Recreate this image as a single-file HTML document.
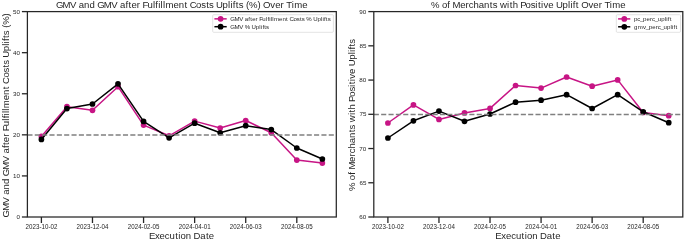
<!DOCTYPE html>
<html><head><meta charset="utf-8"><style>
html,body{margin:0;padding:0;background:#ffffff;}
body{width:685px;height:241px;overflow:hidden;}
svg{display:block;font-family:"Liberation Sans",sans-serif;filter:blur(0.3px);}
</style></head><body>
<svg width="685" height="241" viewBox="0 0 685 241">
<rect width="685" height="241" fill="#ffffff"/>
<polyline points="41.4,136.4 66.94,106.7 92.48,110.3 118.02,86.7 143.56,125.1 169.1,135.8 194.64,121.1 220.18,128 245.72,120.5 271.26,132.8 296.8,160.1 322.34,163.1" fill="none" stroke="#c71585" stroke-width="1.5" stroke-linejoin="round" stroke-linecap="round"/><circle cx="41.4" cy="136.4" r="2.85" fill="#c71585"/><circle cx="66.94" cy="106.7" r="2.85" fill="#c71585"/><circle cx="92.48" cy="110.3" r="2.85" fill="#c71585"/><circle cx="118.02" cy="86.7" r="2.85" fill="#c71585"/><circle cx="143.56" cy="125.1" r="2.85" fill="#c71585"/><circle cx="169.1" cy="135.8" r="2.85" fill="#c71585"/><circle cx="194.64" cy="121.1" r="2.85" fill="#c71585"/><circle cx="220.18" cy="128" r="2.85" fill="#c71585"/><circle cx="245.72" cy="120.5" r="2.85" fill="#c71585"/><circle cx="271.26" cy="132.8" r="2.85" fill="#c71585"/><circle cx="296.8" cy="160.1" r="2.85" fill="#c71585"/><circle cx="322.34" cy="163.1" r="2.85" fill="#c71585"/>
<polyline points="41.4,139.4 66.94,108.6 92.48,104 118.02,83.8 143.56,121.4 169.1,137.8 194.64,123.2 220.18,132.8 245.72,125.7 271.26,129.6 296.8,148 322.34,159" fill="none" stroke="#000000" stroke-width="1.5" stroke-linejoin="round" stroke-linecap="round"/><circle cx="41.4" cy="139.4" r="2.85" fill="#000000"/><circle cx="66.94" cy="108.6" r="2.85" fill="#000000"/><circle cx="92.48" cy="104" r="2.85" fill="#000000"/><circle cx="118.02" cy="83.8" r="2.85" fill="#000000"/><circle cx="143.56" cy="121.4" r="2.85" fill="#000000"/><circle cx="169.1" cy="137.8" r="2.85" fill="#000000"/><circle cx="194.64" cy="123.2" r="2.85" fill="#000000"/><circle cx="220.18" cy="132.8" r="2.85" fill="#000000"/><circle cx="245.72" cy="125.7" r="2.85" fill="#000000"/><circle cx="271.26" cy="129.6" r="2.85" fill="#000000"/><circle cx="296.8" cy="148" r="2.85" fill="#000000"/><circle cx="322.34" cy="159" r="2.85" fill="#000000"/>
<line x1="27.4" y1="135.04" x2="336.3" y2="135.04" stroke="#808080" stroke-width="1.6" stroke-dasharray="5.1 2.25"/>
<rect x="27.4" y="11.6" width="308.9" height="205.4" fill="none" stroke="#262626" stroke-width="1.25"/>
<line x1="21.9" y1="217" x2="27.4" y2="217" stroke="#262626" stroke-width="1.3"/>
<text transform="scale(1.1,1)" x="15.04" y="219.04" font-size="5.70" fill="#262626">0</text>
<line x1="21.9" y1="175.92" x2="27.4" y2="175.92" stroke="#262626" stroke-width="1.3"/>
<text transform="scale(1.1,1)" x="11.80 15.04" y="177.96" font-size="5.70" fill="#262626">10</text>
<line x1="21.9" y1="134.84" x2="27.4" y2="134.84" stroke="#262626" stroke-width="1.3"/>
<text transform="scale(1.1,1)" x="11.80 15.04" y="136.88" font-size="5.70" fill="#262626">20</text>
<line x1="21.9" y1="93.76" x2="27.4" y2="93.76" stroke="#262626" stroke-width="1.3"/>
<text transform="scale(1.1,1)" x="11.80 15.04" y="95.80" font-size="5.70" fill="#262626">30</text>
<line x1="21.9" y1="52.68" x2="27.4" y2="52.68" stroke="#262626" stroke-width="1.3"/>
<text transform="scale(1.1,1)" x="11.80 15.04" y="54.72" font-size="5.70" fill="#262626">40</text>
<line x1="21.9" y1="11.6" x2="27.4" y2="11.6" stroke="#262626" stroke-width="1.3"/>
<text transform="scale(1.1,1)" x="11.80 15.04" y="13.64" font-size="5.70" fill="#262626">50</text>
<line x1="41.4" y1="217" x2="41.4" y2="223" stroke="#262626" stroke-width="1.3"/>
<text transform="scale(0.96,1)" x="26.59 30.23 33.88 37.52 41.10 43.24 46.88 50.45 52.59 56.24" y="228.90" font-size="6.43" fill="#262626">2023-10-02</text>
<line x1="92.48" y1="217" x2="92.48" y2="223" stroke="#262626" stroke-width="1.3"/>
<text transform="scale(0.96,1)" x="79.67 83.31 86.96 90.61 94.18 96.32 99.96 103.54 105.67 109.32" y="228.90" font-size="6.43" fill="#262626">2023-12-04</text>
<line x1="143.56" y1="217" x2="143.56" y2="223" stroke="#262626" stroke-width="1.3"/>
<text transform="scale(0.96,1)" x="132.97 136.61 140.26 143.90 147.48 149.62 153.26 156.83 158.97 162.62" y="228.90" font-size="6.43" fill="#262626">2024-02-05</text>
<line x1="194.64" y1="217" x2="194.64" y2="223" stroke="#262626" stroke-width="1.3"/>
<text transform="scale(0.96,1)" x="186.19 189.84 193.48 197.13 200.70 202.84 206.48 210.06 212.20 215.84" y="228.90" font-size="6.43" fill="#262626">2024-04-01</text>
<line x1="245.72" y1="217" x2="245.72" y2="223" stroke="#262626" stroke-width="1.3"/>
<text transform="scale(0.96,1)" x="239.36 243.01 246.65 250.30 253.87 256.01 259.66 263.23 265.37 269.01" y="228.90" font-size="6.43" fill="#262626">2024-06-03</text>
<line x1="296.8" y1="217" x2="296.8" y2="223" stroke="#262626" stroke-width="1.3"/>
<text transform="scale(0.96,1)" x="292.59 296.24 299.88 303.53 307.10 309.24 312.89 316.46 318.60 322.24" y="228.90" font-size="6.43" fill="#262626">2024-08-05</text>
<text transform="scale(1.085,1)" x="51.55 57.73 64.54 70.19 72.61 77.51 82.49 87.46 89.54 95.73 102.53 108.18 110.61 115.63 118.41 121.14 126.15 129.26 131.30 135.85 140.91 143.13 145.85 148.03 150.22 152.44 159.90 164.80 170.06 172.85 174.88 180.75 185.45 190.01 192.62 196.89 199.05 205.15 210.21 212.39 214.62 217.40 220.00 224.28 226.81 229.62 237.34 240.36 242.50 249.14 253.63 258.64 261.75 263.92 268.89 271.11 278.57" y="7.95" font-size="8.82" fill="#262626">GMV and GMV after Fulfillment Costs Uplifts (%) Over Time</text>
<text transform="scale(1.085,1)" x="137.23 142.76 147.00 151.81 156.20 161.44 164.31 166.33 171.21 176.16 178.46 184.61 189.77 192.49" y="239.30" font-size="8.80" fill="#262626">Execution Date</text>
<text transform="translate(9.40,0) rotate(-90) scale(1.085,1)" x="-200.46 -194.29 -187.50 -181.86 -179.44 -174.56 -169.59 -164.63 -162.55 -156.38 -149.59 -143.95 -141.53 -136.53 -133.75 -131.03 -126.03 -122.93 -120.89 -116.35 -111.31 -109.08 -106.37 -104.20 -102.02 -99.80 -92.36 -87.47 -82.22 -79.44 -77.42 -71.55 -66.87 -62.32 -59.72 -55.45 -53.30 -47.21 -42.17 -39.99 -37.77 -34.99 -32.39 -28.13 -25.60 -22.80 -15.10" y="0" font-size="8.80" fill="#262626">GMV and GMV after Fulfillment Costs Uplifts (%)</text>
<polyline points="387.9,123 413.43,104.9 438.96,119.4 464.49,112.9 490.02,108.4 515.55,85.5 541.08,88.1 566.61,77 592.14,86.2 617.67,79.9 643.2,112.5 668.73,115.7" fill="none" stroke="#c71585" stroke-width="1.5" stroke-linejoin="round" stroke-linecap="round"/><circle cx="387.9" cy="123" r="2.85" fill="#c71585"/><circle cx="413.43" cy="104.9" r="2.85" fill="#c71585"/><circle cx="438.96" cy="119.4" r="2.85" fill="#c71585"/><circle cx="464.49" cy="112.9" r="2.85" fill="#c71585"/><circle cx="490.02" cy="108.4" r="2.85" fill="#c71585"/><circle cx="515.55" cy="85.5" r="2.85" fill="#c71585"/><circle cx="541.08" cy="88.1" r="2.85" fill="#c71585"/><circle cx="566.61" cy="77" r="2.85" fill="#c71585"/><circle cx="592.14" cy="86.2" r="2.85" fill="#c71585"/><circle cx="617.67" cy="79.9" r="2.85" fill="#c71585"/><circle cx="643.2" cy="112.5" r="2.85" fill="#c71585"/><circle cx="668.73" cy="115.7" r="2.85" fill="#c71585"/>
<polyline points="387.9,138 413.43,120.8 438.96,111.1 464.49,121.3 490.02,114 515.55,102.2 541.08,100.2 566.61,94.7 592.14,108.5 617.67,94.7 643.2,111.8 668.73,122.7" fill="none" stroke="#000000" stroke-width="1.5" stroke-linejoin="round" stroke-linecap="round"/><circle cx="387.9" cy="138" r="2.85" fill="#000000"/><circle cx="413.43" cy="120.8" r="2.85" fill="#000000"/><circle cx="438.96" cy="111.1" r="2.85" fill="#000000"/><circle cx="464.49" cy="121.3" r="2.85" fill="#000000"/><circle cx="490.02" cy="114" r="2.85" fill="#000000"/><circle cx="515.55" cy="102.2" r="2.85" fill="#000000"/><circle cx="541.08" cy="100.2" r="2.85" fill="#000000"/><circle cx="566.61" cy="94.7" r="2.85" fill="#000000"/><circle cx="592.14" cy="108.5" r="2.85" fill="#000000"/><circle cx="617.67" cy="94.7" r="2.85" fill="#000000"/><circle cx="643.2" cy="111.8" r="2.85" fill="#000000"/><circle cx="668.73" cy="122.7" r="2.85" fill="#000000"/>
<line x1="373.8" y1="114.5" x2="682.8" y2="114.5" stroke="#808080" stroke-width="1.6" stroke-dasharray="5.1 2.25"/>
<rect x="373.8" y="11.6" width="309" height="205.4" fill="none" stroke="#262626" stroke-width="1.25"/>
<line x1="368.3" y1="217" x2="373.8" y2="217" stroke="#262626" stroke-width="1.3"/>
<text transform="scale(1.1,1)" x="326.62 329.86" y="219.04" font-size="5.70" fill="#262626">60</text>
<line x1="368.3" y1="182.77" x2="373.8" y2="182.77" stroke="#262626" stroke-width="1.3"/>
<text transform="scale(1.1,1)" x="326.73 329.97" y="184.81" font-size="5.70" fill="#262626">65</text>
<line x1="368.3" y1="148.53" x2="373.8" y2="148.53" stroke="#262626" stroke-width="1.3"/>
<text transform="scale(1.1,1)" x="326.62 329.86" y="150.57" font-size="5.70" fill="#262626">70</text>
<line x1="368.3" y1="114.3" x2="373.8" y2="114.3" stroke="#262626" stroke-width="1.3"/>
<text transform="scale(1.1,1)" x="326.73 329.97" y="116.34" font-size="5.70" fill="#262626">75</text>
<line x1="368.3" y1="80.07" x2="373.8" y2="80.07" stroke="#262626" stroke-width="1.3"/>
<text transform="scale(1.1,1)" x="326.62 329.86" y="82.11" font-size="5.70" fill="#262626">80</text>
<line x1="368.3" y1="45.83" x2="373.8" y2="45.83" stroke="#262626" stroke-width="1.3"/>
<text transform="scale(1.1,1)" x="326.73 329.97" y="47.87" font-size="5.70" fill="#262626">85</text>
<line x1="368.3" y1="11.6" x2="373.8" y2="11.6" stroke="#262626" stroke-width="1.3"/>
<text transform="scale(1.1,1)" x="326.62 329.86" y="13.64" font-size="5.70" fill="#262626">90</text>
<line x1="387.9" y1="217" x2="387.9" y2="223" stroke="#262626" stroke-width="1.3"/>
<text transform="scale(0.96,1)" x="387.52 391.17 394.82 398.46 402.03 404.17 407.82 411.39 413.53 417.18" y="228.90" font-size="6.43" fill="#262626">2023-10-02</text>
<line x1="438.96" y1="217" x2="438.96" y2="223" stroke="#262626" stroke-width="1.3"/>
<text transform="scale(0.96,1)" x="440.59 444.23 447.88 451.52 455.10 457.23 460.88 464.45 466.59 470.24" y="228.90" font-size="6.43" fill="#262626">2023-12-04</text>
<line x1="490.02" y1="217" x2="490.02" y2="223" stroke="#262626" stroke-width="1.3"/>
<text transform="scale(0.96,1)" x="493.86 497.51 501.15 504.80 508.37 510.51 514.16 517.73 519.87 523.51" y="228.90" font-size="6.43" fill="#262626">2024-02-05</text>
<line x1="541.08" y1="217" x2="541.08" y2="223" stroke="#262626" stroke-width="1.3"/>
<text transform="scale(0.96,1)" x="547.07 550.71 554.36 558.00 561.57 563.71 567.36 570.93 573.07 576.72" y="228.90" font-size="6.43" fill="#262626">2024-04-01</text>
<line x1="592.14" y1="217" x2="592.14" y2="223" stroke="#262626" stroke-width="1.3"/>
<text transform="scale(0.96,1)" x="600.22 603.86 607.51 611.15 614.73 616.87 620.51 624.08 626.22 629.87" y="228.90" font-size="6.43" fill="#262626">2024-06-03</text>
<line x1="643.2" y1="217" x2="643.2" y2="223" stroke="#262626" stroke-width="1.3"/>
<text transform="scale(0.96,1)" x="653.43 657.07 660.72 664.36 667.94 670.07 673.72 677.29 679.43 683.08" y="228.90" font-size="6.43" fill="#262626">2024-08-05</text>
<text transform="scale(1.085,1)" x="397.18 404.85 407.28 412.29 414.92 417.11 424.13 429.14 432.01 436.41 441.30 446.20 451.45 454.06 458.33 460.83 467.34 469.72 472.52 477.49 479.39 484.36 489.06 493.42 495.81 498.68 500.87 505.36 510.25 512.42 518.51 523.57 525.75 527.98 530.76 533.55 535.68 542.32 546.81 551.83 554.93 557.11 562.07 564.30 571.76" y="7.95" font-size="8.82" fill="#262626">% of Merchants with Positive Uplift Over Time</text>
<text transform="scale(1.085,1)" x="456.54 462.07 466.31 471.12 475.51 480.75 483.62 485.64 490.51 495.47 497.77 503.92 509.08 511.80" y="239.30" font-size="8.80" fill="#262626">Execution Date</text>
<text transform="translate(354.70,0) rotate(-90) scale(1.085,1)" x="-176.11 -168.45 -166.03 -161.03 -158.41 -156.23 -149.22 -144.22 -141.36 -136.97 -132.09 -127.20 -121.96 -119.36 -115.10 -112.60 -106.11 -103.73 -100.94 -95.99 -94.09 -89.13 -84.44 -80.09 -77.71 -74.84 -72.66 -68.18 -63.30 -61.14 -55.06 -50.01 -47.84 -45.61 -42.84 -40.24" y="0" font-size="8.80" fill="#262626">% of Merchants with Positive Uplifts</text>
<rect x="212.7" y="14.7" width="120.7" height="17.6" rx="1" fill="#ffffff" fill-opacity="0.8" stroke="#d0d0d0" stroke-width="0.6"/>
<line x1="214.4" y1="18.85" x2="226.7" y2="18.85" stroke="#c71585" stroke-width="1.5"/>
<circle cx="220.6" cy="18.85" r="2.85" fill="#c71585"/>
<text transform="scale(1.1,1)" x="209.30 213.21 217.50 221.06 222.59 225.76 227.51 229.24 232.40 234.36 235.64 238.52 241.71 243.11 244.83 246.20 247.58 248.99 253.69 256.79 260.10 261.86 263.14 266.85 269.81 272.69 274.33 277.03 278.47 283.31 284.68 288.53 291.71 293.09 294.50 296.25 297.90" y="20.95" font-size="5.55" fill="#262626">GMV after Fulfillment Costs % Uplifts</text>
<line x1="214.4" y1="26.7" x2="226.7" y2="26.7" stroke="#000000" stroke-width="1.5"/>
<circle cx="220.6" cy="26.7" r="2.85" fill="#000000"/>
<text transform="scale(1.1,1)" x="209.30 213.21 217.50 221.06 222.51 227.34 228.71 232.56 235.74 237.12 238.53 240.28 241.93" y="28.80" font-size="5.55" fill="#262626">GMV % Uplifts</text>
<rect x="616.3" y="14.7" width="64.2" height="17.6" rx="1" fill="#ffffff" fill-opacity="0.8" stroke="#d0d0d0" stroke-width="0.6"/>
<line x1="618.1" y1="18.9" x2="630.3" y2="18.9" stroke="#c71585" stroke-width="1.5"/>
<circle cx="624.3" cy="18.9" r="2.85" fill="#c71585"/>
<text transform="scale(1.1,1)" x="576.31 579.40 581.84 584.65 587.75 590.91 592.72 595.16 597.97 601.12 604.30 605.68 607.09 608.84" y="21.00" font-size="5.55" fill="#262626">pc_perc_uplift</text>
<line x1="618.1" y1="26.8" x2="630.3" y2="26.8" stroke="#000000" stroke-width="1.5"/>
<circle cx="624.3" cy="26.8" r="2.85" fill="#000000"/>
<text transform="scale(1.1,1)" x="576.48 579.70 584.50 587.05 589.86 592.96 596.12 597.93 600.38 603.18 606.33 609.51 610.89 612.30 614.05" y="28.90" font-size="5.55" fill="#262626">gmv_perc_uplift</text>
</svg>
</body></html>
